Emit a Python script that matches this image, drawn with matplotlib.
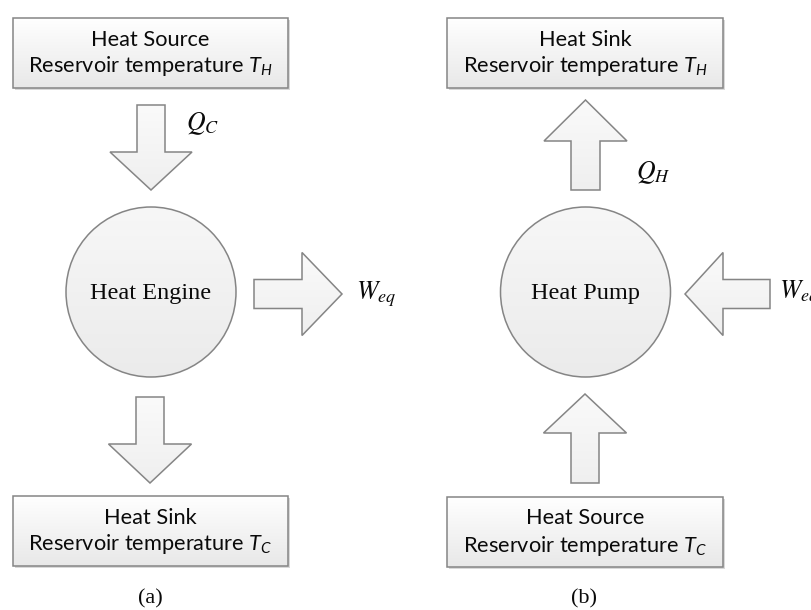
import matplotlib
matplotlib.use("Agg")
import matplotlib.pyplot as plt
import numpy as np
from matplotlib.patches import Rectangle, Circle, Polygon
from matplotlib.colors import LinearSegmentedColormap

plt.rcParams['mathtext.fontset'] = 'custom'
plt.rcParams['mathtext.it'] = 'Lato:italic'
plt.rcParams['mathtext.rm'] = 'Lato'

# ---- content ----
box_titles = ["Heat Source", "Heat Sink", "Heat Sink", "Heat Source"]
box_temps = [r"Reservoir temperature $T_H$", r"Reservoir temperature $T_C$",
             r"Reservoir temperature $T_H$", r"Reservoir temperature $T_C$"]
circle_labels = ["Heat Engine", "Heat Pump"]
flow_labels = [r"$Q_C$", r"$W_{eq}$", r"$Q_H$", r"$W_{eq}$"]
panel_labels = ["(a)", "(b)"]

# ---- layout (pixels) ----
box_rects = [(13, 18, 275, 70), (13, 496, 275, 70), (447, 18, 276, 70), (447, 497, 276, 70)]
circle_centers = [(151, 292), (585.5, 292)]
circle_r = 85
# arrows: (direction, axis coord, start, head base, tip, shaft half width, head half width)
arrows = [
    ("v", 151, 105, 152, 190, 14, 41),
    ("v", 150, 397, 444, 483, 14, 41.5),
    ("h", 294, 254, 302, 342, 14.5, 41.5),
    ("v", 585.5, 190, 141, 100, 14.5, 41.5),
    ("v", 585, 483, 433, 394, 14, 41.5),
    ("h", 294, 770, 723, 685, 14.5, 41.5),
]
flow_pos = [(186, 124), (356, 294), (636, 173), (779, 293)]
panel_pos = [(150, 599), (584, 599)]

EDGE = "#858585"

fig = plt.figure(figsize=(8.12, 6.10), dpi=100)
ax = fig.add_axes([0, 0, 1, 1])
ax.set_xlim(0, 812)
ax.set_ylim(610, 0)
ax.axis("off")


def gradient_fill(patch, x0, x1, y0, y1, c_top, c_bot, z):
    cmap = LinearSegmentedColormap.from_list("g", [c_top, c_bot])
    grad = np.linspace(0, 1, 256).reshape(-1, 1)
    im = ax.imshow(grad, cmap=cmap, extent=(x0, x1, y1, y0), origin="upper",
                   aspect="auto", zorder=z, interpolation="bilinear")
    im.set_clip_path(patch)


# boxes
for (x, y, w, h), t1, t2 in zip(box_rects, box_titles, box_temps):
    sh = Rectangle((x + 2, y + 2), w, h, facecolor="#d9d9d9", edgecolor="none", zorder=1)
    ax.add_patch(sh)
    r = Rectangle((x, y), w, h, facecolor="none", edgecolor=EDGE, lw=1.1, zorder=3)
    ax.add_patch(r)
    clip = Rectangle((x, y), w, h, transform=ax.transData, facecolor="none", edgecolor="none")
    ax.add_patch(clip)
    gradient_fill(clip, x, x + w, y, y + h, "#ffffff", "#e8e8e8", 2)
    cx = x + w / 2
    ax.text(cx, y + h / 2 - 13.5, t1, ha="center", va="center", fontsize=15.7,
            family="Lato", color="#0a0a0a", zorder=4)
    ax.text(cx, y + h / 2 + 13.5, t2, ha="center", va="center", fontsize=15.7,
            family="Lato", color="#0a0a0a", math_fontfamily="custom", zorder=4)

# circles
for (cx, cy), lab in zip(circle_centers, circle_labels):
    c = Circle((cx, cy), circle_r, facecolor="none", edgecolor=EDGE, lw=1.1, zorder=3)
    ax.add_patch(c)
    clip = Circle((cx, cy), circle_r, facecolor="none", edgecolor="none")
    ax.add_patch(clip)
    gradient_fill(clip, cx - circle_r, cx + circle_r, cy - circle_r, cy + circle_r,
                  "#f7f7f7", "#ebebeb", 2)
    ax.text(cx, cy + 1, lab, ha="center", va="center", fontsize=17.5,
            family="Liberation Serif", color="#0a0a0a", zorder=4)

# arrows
for d, a, s, b, t, sw, hw in arrows:
    if d == "v":
        pts = [(a - sw, s), (a - sw, b), (a - hw, b), (a, t), (a + hw, b), (a + sw, b), (a + sw, s)]
    else:
        pts = [(s, a - sw), (b, a - sw), (b, a - hw), (t, a), (b, a + hw), (b, a + sw), (s, a + sw)]
    p = Polygon(pts, closed=True, facecolor="none", edgecolor=EDGE, lw=1.1, zorder=3,
                joinstyle="miter")
    ax.add_patch(p)
    clip = Polygon(pts, closed=True, facecolor="none", edgecolor="none")
    ax.add_patch(clip)
    xs = [q[0] for q in pts]
    ys = [q[1] for q in pts]
    gradient_fill(clip, min(xs), max(xs), min(ys), max(ys), "#fafafa", "#efefef", 2)

# flow labels
for (x, y), lab in zip(flow_pos, flow_labels):
    ax.text(x, y, lab, ha="left", va="center", fontsize=18.5, color="#0a0a0a",
            math_fontfamily="stix", zorder=4)

# panel labels
for (x, y), lab in zip(panel_pos, panel_labels):
    ax.text(x, y, lab, ha="center", va="center", fontsize=16,
            family="Liberation Serif", color="#0a0a0a", zorder=4)

fig.savefig("out.png", dpi=100)
